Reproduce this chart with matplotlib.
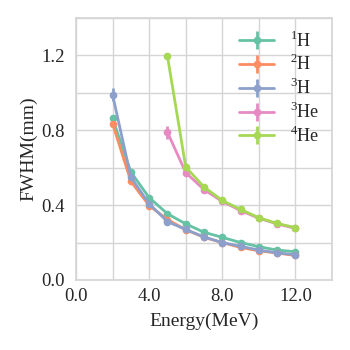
import matplotlib
matplotlib.use("Agg")
import matplotlib.pyplot as plt
import seaborn as sns
from matplotlib.ticker import MultipleLocator, FormatStrFormatter

sns.set_theme(style="whitegrid")
plt.rcParams['font.family'] = ['Liberation Serif', 'DejaVu Serif']
plt.rcParams['mathtext.fontset'] = 'custom'
plt.rcParams['mathtext.rm'] = 'Liberation Serif'

# energies (MeV)
e_h = [2, 3, 4, 5, 6, 7, 8, 9, 10, 11, 12]
e_he = [5, 6, 7, 8, 9, 10, 11, 12]

# FWHM (mm)
fwhm_1h = [0.863, 0.577, 0.440, 0.354, 0.300, 0.255, 0.228, 0.200, 0.178, 0.160, 0.151]
fwhm_2h = [0.836, 0.527, 0.398, 0.323, 0.269, 0.228, 0.200, 0.174, 0.156, 0.144, 0.131]
fwhm_3h = [0.990, 0.550, 0.407, 0.312, 0.270, 0.230, 0.200, 0.180, 0.160, 0.145, 0.135]
fwhm_3he = [0.790, 0.574, 0.483, 0.420, 0.371, 0.330, 0.300, 0.276]
fwhm_4he = [1.197, 0.604, 0.497, 0.425, 0.377, 0.333, 0.302, 0.280]

err_1h = [0.02, 0.01, 0.01, 0.01, 0.01, 0.005, 0.005, 0.005, 0.005, 0.005, 0.005]
err_2h = [0.02, 0.01, 0.01, 0.01, 0.01, 0.005, 0.005, 0.005, 0.005, 0.005, 0.005]
err_3h = [0.035, 0.015, 0.01, 0.01, 0.01, 0.005, 0.005, 0.005, 0.005, 0.005, 0.005]
err_3he = [0.035, 0.01, 0.01, 0.01, 0.005, 0.005, 0.005, 0.005]
err_4he = [0.01, 0.01, 0.01, 0.005, 0.005, 0.005, 0.005, 0.005]

labels = [r'$^{1}\mathrm{H}$', r'$^{2}\mathrm{H}$', r'$^{3}\mathrm{H}$',
          r'$^{3}\mathrm{He}$', r'$^{4}\mathrm{He}$']

colors = sns.color_palette("Set2", 5)

fig, ax = plt.subplots(figsize=(3.5, 3.5), dpi=100)

series = [(e_h, fwhm_1h, err_1h), (e_h, fwhm_2h, err_2h), (e_h, fwhm_3h, err_3h),
          (e_he, fwhm_3he, err_3he), (e_he, fwhm_4he, err_4he)]
for (x, y, err), lab, c in zip(series, labels, colors):
    ax.errorbar(x, y, yerr=err, fmt='-o', color=c, label=lab, lw=2, ms=4.5, elinewidth=2)

ax.set_xlim(0, 14)
ax.set_ylim(0, 1.4)
ax.xaxis.set_major_locator(MultipleLocator(4))
ax.xaxis.set_minor_locator(MultipleLocator(2))
ax.yaxis.set_major_locator(MultipleLocator(0.4))
ax.yaxis.set_minor_locator(MultipleLocator(0.2))
ax.xaxis.set_major_formatter(FormatStrFormatter('%.1f'))
ax.yaxis.set_major_formatter(FormatStrFormatter('%.1f'))
ax.grid(which='both', color='#d5d5d5', lw=1)
ax.tick_params(axis='both', which='both', labelsize=13.5, length=0)
ax.tick_params(axis='y', pad=8)
ax.tick_params(axis='x', pad=6)
for s in ax.spines.values():
    s.set_color('#d5d5d5')

ax.set_xlabel('Energy(MeV)', fontsize=14, labelpad=5)
ax.set_ylabel('FWHM(mm)', fontsize=14, labelpad=3)
ax.legend(loc='upper right', frameon=False, fontsize=13, handlelength=1.9,
          handletextpad=0.9, borderaxespad=0.3, labelspacing=0.2)

fig.subplots_adjust(left=76/350, right=332/350, top=1-18/350, bottom=1-280/350)
fig.savefig('out.png', dpi=100)
